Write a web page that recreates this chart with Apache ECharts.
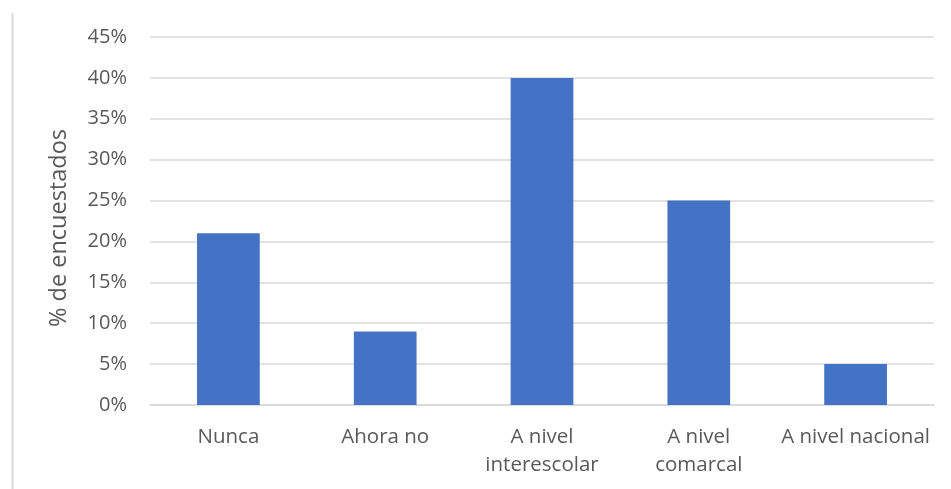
<!DOCTYPE html>
<html>
<head>
<meta charset="utf-8">
<script src="https://cdn.jsdelivr.net/npm/echarts@6/dist/echarts.min.js"></script>
<style>
html, body { margin: 0; padding: 0; background: #fff; }
#chart { width: 951px; height: 489px; }
</style>
</head>
<body>
<div id="chart"></div>
<script>
const categories = ['Nunca', 'Ahora no', 'A nivel\ninterescolar', 'A nivel\ncomarcal', 'A nivel nacional'];
const values = [21, 9, 40, 25, 5];
const yTicks = { min: 0, max: 45, interval: 5 };
const yTitle = '% de encuestados';

const textColor = '#595959';
const font = '"Open Sans", "Noto Sans", sans-serif';

const chart = echarts.init(document.getElementById('chart'));
chart.setOption({
  animation: false,
  graphic: [{
    type: 'line',
    shape: { x1: 12.5, y1: 13, x2: 12.5, y2: 489 },
    style: { stroke: '#d9d9d9', lineWidth: 2 }
  }],
  grid: { left: 150, right: 17, top: 37, bottom: 84 },
  xAxis: {
    type: 'category',
    data: categories,
    axisTick: { show: false },
    axisLine: { lineStyle: { color: '#d9d9d9', width: 1.5 } },
    axisLabel: {
      interval: 0,
      hideOverlap: false,
      color: textColor,
      fontFamily: font,
      fontSize: 20.5,
      lineHeight: 28,
      margin: 18
    }
  },
  yAxis: {
    type: 'value',
    min: yTicks.min,
    max: yTicks.max,
    interval: yTicks.interval,
    name: yTitle,
    nameLocation: 'middle',
    nameGap: 79,
    nameTextStyle: { color: textColor, fontFamily: font, fontSize: 23.5, padding: [0, 14, 0, 0] },
    axisLine: { show: false },
    axisTick: { show: false },
    axisLabel: {
      color: textColor,
      fontFamily: font,
      fontSize: 20,
      margin: 23,
      formatter: v => v + '%'
    },
    splitLine: { lineStyle: { color: '#d9d9d9', width: 1.5 } }
  },
  series: [{
    type: 'bar',
    data: values,
    barCategoryGap: '60%',
    itemStyle: { color: '#4472c4' }
  }]
});
</script>
</body>
</html>
